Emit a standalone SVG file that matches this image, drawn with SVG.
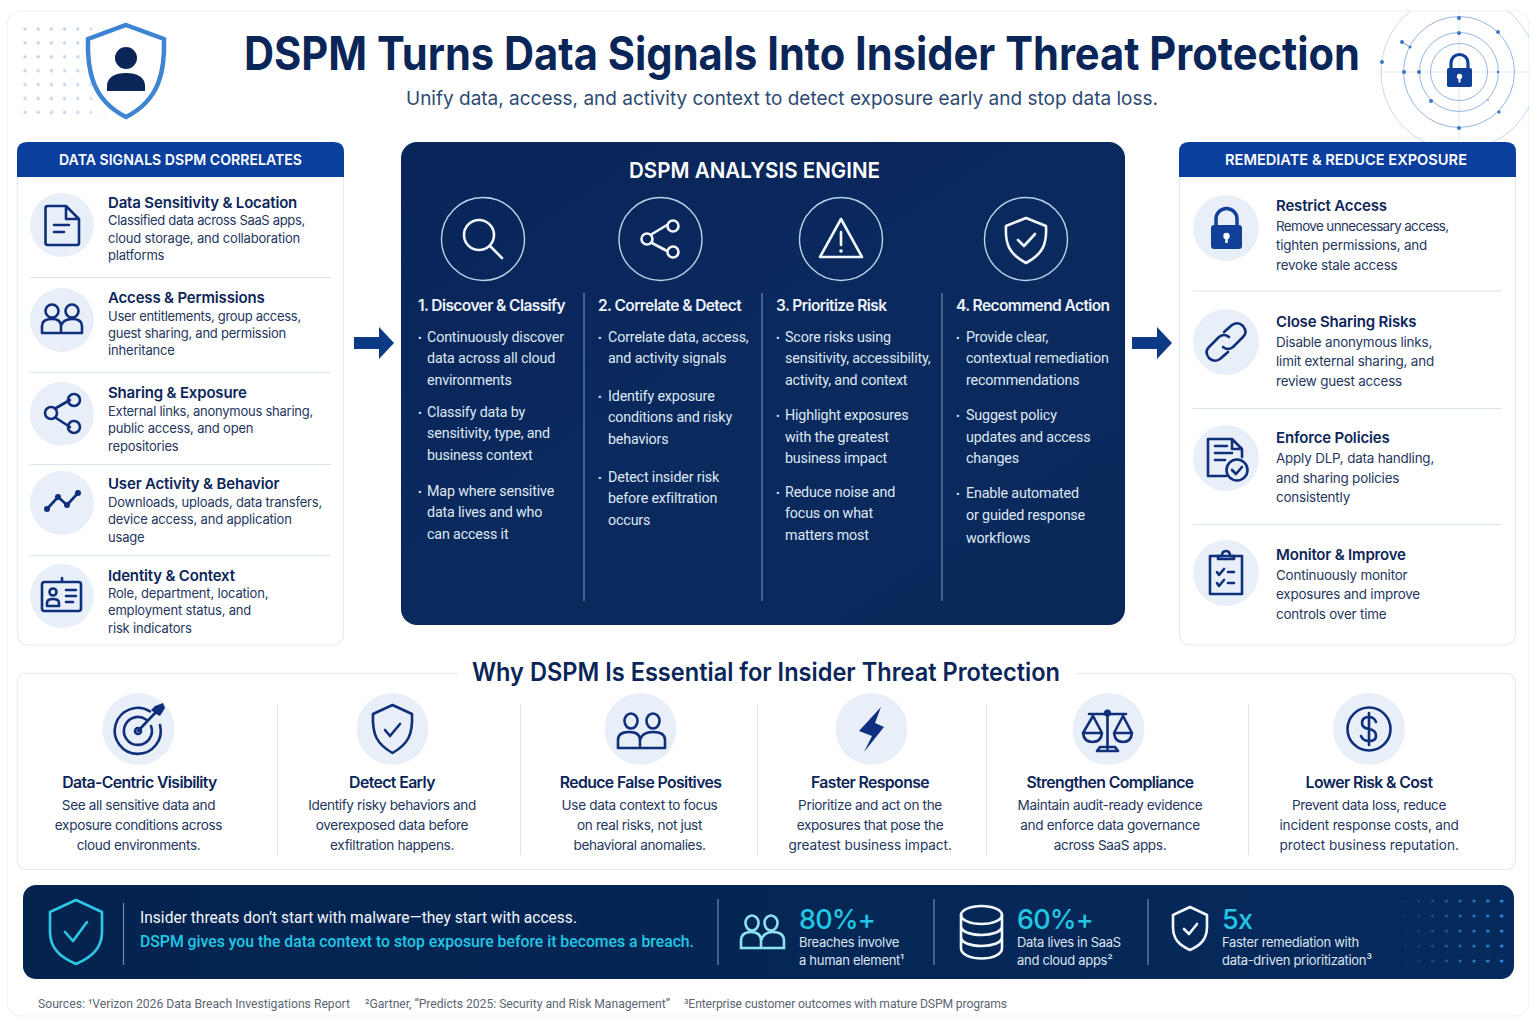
<svg xmlns="http://www.w3.org/2000/svg" width="1536" height="1024" viewBox="0 0 1536 1024">
<style>
text{font-family:Inter,"Liberation Sans",sans-serif}
.ln{fill:none;stroke:#0f2f7a;stroke-width:2.6;stroke-linecap:round;stroke-linejoin:round}
.wl{fill:none;stroke:#f2f7fc;stroke-width:2.6;stroke-linecap:round;stroke-linejoin:round}
.cy{fill:none;stroke:#2ec8e4;stroke-width:2.6;stroke-linecap:round;stroke-linejoin:round}
.bub{fill:#e8eff8}
.ph{font-size:15px;font-weight:600;fill:#fff;text-anchor:middle}
.it{font-size:15px;font-weight:600;fill:#0c2558;letter-spacing:-.17px}
.d1{font-size:13px;fill:#24365e;letter-spacing:-.18px}
.d2{font-size:13.4px;fill:#24365e;letter-spacing:-.18px}
.st{font-size:15.5px;font-weight:600;fill:#eef3fb;letter-spacing:-.58px}
.b{font-family:Roboto,"Liberation Sans",sans-serif;font-size:14.3px;fill:#dfe8f4;letter-spacing:-.16px}
.bu{font-size:11px}
.sep{stroke:#dbe3f0;stroke-width:1.2}
.esep{stroke:#7288ab;stroke-width:1.2}
.wt{font-size:15.8px;font-weight:600;fill:#0c2558;text-anchor:middle;letter-spacing:-.6px}
.wd{font-size:13.6px;fill:#24365e;text-anchor:middle;letter-spacing:-.36px}
.big{font-size:27px;font-weight:500;fill:#22c7e3;letter-spacing:-.8px}
.sm{font-size:13px;fill:#dbe5f1;letter-spacing:-.3px}
.ring{fill:none;stroke:#95b7e3;stroke-width:1}
.dot{fill:#3d78c4}
.flow{fill:none;stroke:#22c7e3;stroke-width:2;stroke-dasharray:2 4.6}
.src{font-family:Roboto,"Liberation Sans",sans-serif;font-size:12.2px;fill:#5d6673}
.ban{font-family:Roboto,"Liberation Sans",sans-serif;font-size:16.5px}
</style>
<defs>
<marker id="ah" viewBox="0 0 12 14" refX="11" refY="7" markerWidth="12" markerHeight="14" markerUnits="userSpaceOnUse" orient="auto"><path d="M0 0L12 7L0 14L3 7Z" fill="#22c7e3"/></marker>
<linearGradient id="eng" x1="0" y1="0" x2="1" y2="1"><stop offset="0" stop-color="#09255a"/><stop offset="0.6" stop-color="#0a2a5e"/><stop offset="1" stop-color="#09285a"/></linearGradient>
<linearGradient id="ban" x1="0" y1="0" x2="1" y2="0"><stop offset="0" stop-color="#04234f"/><stop offset="1" stop-color="#052a5c"/></linearGradient>
<pattern id="pd1" x="19" y="23" width="13.2" height="13.9" patternUnits="userSpaceOnUse"><circle cx="6" cy="6" r="1.7" fill="#c4d4e8"/></pattern>
<pattern id="pd2" x="1400" y="895" width="13.8" height="15" patternUnits="userSpaceOnUse"><circle cx="5" cy="6" r="1.6" fill="#3a9ae8"/></pattern>
<linearGradient id="mg" x1="0" y1="0" x2="1" y2="0"><stop offset="0" stop-color="#fff" stop-opacity="0.05"/><stop offset="1" stop-color="#fff"/></linearGradient>
<linearGradient id="mg1" x1="0" y1="0" x2="1" y2="0"><stop offset="0" stop-color="#fff"/><stop offset="0.7" stop-color="#fff"/><stop offset="1" stop-color="#fff" stop-opacity="0.1"/></linearGradient>
<mask id="m2" maskUnits="userSpaceOnUse" x="1400" y="895" width="105" height="75"><rect x="1400" y="895" width="105" height="75" fill="url(#mg)"/></mask>
<mask id="m1" maskUnits="userSpaceOnUse" x="19" y="23" width="90" height="97"><rect x="19" y="23" width="90" height="97" fill="url(#mg1)"/></mask>
<clipPath id="frameclip"><rect x="1340" y="11" width="189" height="135"/></clipPath>
</defs>
<rect width="1536" height="1024" fill="#fff"/>
<rect x="7" y="11" width="1522" height="1005" rx="14" fill="#fff" stroke="#eef2f8" stroke-width="1.2"/>

<g id="header">
<rect x="19" y="23" width="90" height="97" fill="url(#pd1)" mask="url(#m1)"/>
<path id="shield-user" d="M126 25L164 39C165 70 160 100 126 117C92 100 87 70 88 39Z" fill="#fff" stroke="#3d84d2" stroke-width="4.500" stroke-linejoin="miter"/>
<circle cx="126" cy="58" r="11" fill="#0a2659"/>
<path d="M107 91V86C107 77 115 73 126 73C137 73 145 77 145 86V91Z" fill="#0a2659"/>
<text x="244" y="70" font-size="46" font-weight="700" fill="#0a2659" textLength="1116" lengthAdjust="spacingAndGlyphs">DSPM Turns Data Signals Into Insider Threat Protection</text>
<text x="782" y="105" font-size="19" fill="#2c4a72" text-anchor="middle" textLength="752" lengthAdjust="spacingAndGlyphs">Unify data, access, and activity context to detect exposure early and stop data loss.</text>
<g clip-path="url(#frameclip)">
<line x1="1381" y1="72" x2="1529" y2="72" stroke="#dde7f5"/><line x1="1459" y1="11" x2="1459" y2="140" stroke="#dde7f5"/>
<circle class="ring" cx="1459" cy="72" r="28.500"/><circle class="ring" cx="1459" cy="72" r="39.500"/><circle class="ring" cx="1459" cy="72" r="55.500"/><circle class="ring" cx="1459" cy="72" r="78" stroke-opacity="0.55"/>
<line x1="1402" y1="42" x2="1410" y2="47" stroke="#6f9bd6"/>
<g class="dot"><circle cx="1459" cy="18" r="2"/><circle cx="1459" cy="33" r="2"/><circle cx="1498" cy="32" r="2"/><circle cx="1402" cy="42" r="2"/><circle cx="1410" cy="47" r="1.500"/><circle cx="1382" cy="62" r="2"/><circle cx="1404" cy="72" r="2"/><circle cx="1419" cy="72" r="2"/><circle cx="1431" cy="101" r="2"/><circle cx="1499" cy="112" r="1.700"/><circle cx="1498" cy="72" r="1.200"/><circle cx="1459" cy="128" r="2"/><circle cx="1488" cy="100" r="1.300" fill="#a9c3e6"/></g>
<path d="M1451 68V63A8.300 8.300 0 0 1 1468 63V68" fill="none" stroke="#0f3f97" stroke-width="3.200"/>
<rect x="1447" y="68" width="25" height="19" rx="1.800" fill="#0f3f97"/>
<circle cx="1459.500" cy="76.500" r="2.700" fill="#fff"/><rect x="1458.500" y="77" width="2" height="5.500" fill="#fff"/>
</g>
</g>

<g id="panel-left">
<rect x="17.500" y="150" width="326" height="495" rx="10" fill="#fff" stroke="#e3eaf6" stroke-width="1.200"/>
<path d="M17 177V152Q17 142 27 142H334Q344 142 344 152V177Z" fill="#0b3f9e"/>
<text class="ph" x="180.500" y="165" textLength="243" lengthAdjust="spacingAndGlyphs">DATA SIGNALS DSPM CORRELATES</text>
<line class="sep" x1="30" y1="277.500" x2="331" y2="277.500"/><line class="sep" x1="30" y1="372.500" x2="331" y2="372.500"/><line class="sep" x1="30" y1="464.500" x2="331" y2="464.500"/><line class="sep" x1="30" y1="555.500" x2="331" y2="555.500"/>
</g>
<g id="signal-sensitivity">
<circle class="bub" cx="62" cy="225" r="32"/>
<path class="ln" d="M48 206H66L79 219V243Q79 245 77 245H48Q45.500 245 45.500 243V208Q45.500 206 48 206ZM66 206V219H79M54 225H69M54 232H64"/>
<text class="it" x="108" y="207.500">Data Sensitivity &amp; Location</text>
<text class="d1" x="108" y="225" textLength="197">Classified data across SaaS apps,</text><text class="d1" x="108" y="242.500">cloud storage, and collaboration</text><text class="d1" x="108" y="260">platforms</text>
</g>
<g id="signal-access">
<circle class="bub" cx="62" cy="320" r="32"/>
<path class="ln" d="M42 333V326Q42 319 52 319Q61 319 61 326V333ZM61 333H82V326Q82 319 72 319Q63 319 61 326"/><circle class="ln" cx="52" cy="311" r="6.500"/><circle class="ln" cx="72" cy="311" r="6.500"/>
<text class="it" x="108" y="303">Access &amp; Permissions</text>
<text class="d1" x="108" y="321" textLength="193">User entitlements, group access,</text><text class="d1" x="108" y="338" textLength="178">guest sharing, and permission</text><text class="d1" x="108" y="355">inheritance</text>
</g>
<g id="signal-sharing">
<circle class="bub" cx="62" cy="414" r="32"/>
<path class="ln" d="M56 408L70 400M56 418L70 427" stroke-width="3"/><circle class="ln" cx="51" cy="413" r="6"/><circle class="ln" cx="74" cy="400" r="6"/><circle class="ln" cx="74" cy="427" r="6"/>
<text class="it" x="108" y="398">Sharing &amp; Exposure</text>
<text class="d1" x="108" y="416" textLength="205">External links, anonymous sharing,</text><text class="d1" x="108" y="433">public access, and open</text><text class="d1" x="108" y="451">repositories</text>
</g>
<g id="signal-activity">
<circle class="bub" cx="62" cy="503" r="32"/>
<path class="ln" d="M47 509L58 497L67 505L78 493"/>
<g fill="#0f2f7a"><circle cx="47" cy="509" r="3"/><circle cx="58" cy="497" r="3"/><circle cx="67" cy="505" r="3"/><circle cx="78" cy="493" r="3"/></g>
<text class="it" x="108" y="489">User Activity &amp; Behavior</text>
<text class="d1" x="108" y="507" textLength="214">Downloads, uploads, data transfers,</text><text class="d1" x="108" y="524">device access, and application</text><text class="d1" x="108" y="542">usage</text>
</g>
<g id="signal-identity">
<circle class="bub" cx="62" cy="596" r="32"/>
<rect class="ln" x="42" y="582" width="39" height="29" rx="2.500"/><path class="ln" d="M62 578V581" stroke-width="3"/><circle class="ln" cx="53" cy="592" r="3.500"/><path class="ln" d="M47 606V603Q47 599 53 599Q59 599 59 603V606ZM66 590H76M66 596H76M66 602H73"/>
<text class="it" x="108" y="580.500">Identity &amp; Context</text>
<text class="d1" x="108" y="598">Role, department, location,</text><text class="d1" x="108" y="615">employment status, and</text><text class="d1" x="108" y="633">risk indicators</text>
</g>

<g id="connectors">
<path d="M354 337H379V327L394 343L379 359V349H354Z" fill="#0d3a85"/>
<path d="M1132 337H1157V327L1172 343L1157 359V349H1132Z" fill="#0d3a85"/>
<path class="flow" d="M527 241H606" marker-end="url(#ah)"/>
<path class="flow" d="M703 241H785" marker-end="url(#ah)"/>
<path class="flow" d="M884 241H969" marker-end="url(#ah)"/>
</g>

<g id="engine">
<rect x="401" y="142" width="724" height="483" rx="16" fill="url(#eng)"/>
<text x="754.500" y="178" font-size="22" font-weight="600" fill="#fff" text-anchor="middle" textLength="251" lengthAdjust="spacingAndGlyphs">DSPM ANALYSIS ENGINE</text>
<line class="esep" x1="584" y1="293" x2="584" y2="601"/><line class="esep" x1="762" y1="293" x2="762" y2="601"/><line class="esep" x1="942" y1="293" x2="942" y2="601"/>
</g>
<g id="step-1">
<circle cx="483" cy="239" r="41.500" fill="none" stroke="#b7d3ea" stroke-width="1.400"/>
<circle class="wl" cx="479" cy="235" r="15" stroke-width="3"/><path class="wl" d="M490 246L502 258" stroke-width="3.200"/>
<text class="st" x="418" y="311">1. Discover &amp; Classify</text>
<text class="b"><tspan class="bu" x="418" y="342">•</tspan><tspan x="427" y="342">Continuously discover</tspan><tspan x="427" y="363">data across all cloud</tspan><tspan x="427" y="385">environments</tspan><tspan class="bu" x="418" y="417">•</tspan><tspan x="427" y="417">Classify data by</tspan><tspan x="427" y="438">sensitivity, type, and</tspan><tspan x="427" y="460">business context</tspan><tspan class="bu" x="418" y="496">•</tspan><tspan x="427" y="496">Map where sensitive</tspan><tspan x="427" y="517">data lives and who</tspan><tspan x="427" y="539">can access it</tspan></text>
</g>
<g id="step-2">
<circle cx="660.500" cy="239" r="41.500" fill="none" stroke="#b7d3ea" stroke-width="1.400"/>
<path class="wl" d="M652 234L667 225M652 243L667 251" stroke-width="2.200"/><circle class="wl" cx="647" cy="239" r="5.500"/><circle class="wl" cx="673" cy="226" r="5.500"/><circle class="wl" cx="673" cy="252" r="5.500"/>
<text class="st" x="598" y="311">2. Correlate &amp; Detect</text>
<text class="b"><tspan class="bu" x="598" y="342">•</tspan><tspan x="608" y="342">Correlate data, access,</tspan><tspan x="608" y="363">and activity signals</tspan><tspan class="bu" x="598" y="401">•</tspan><tspan x="608" y="401">Identify exposure</tspan><tspan x="608" y="422">conditions and risky</tspan><tspan x="608" y="444">behaviors</tspan><tspan class="bu" x="598" y="482">•</tspan><tspan x="608" y="482">Detect insider risk</tspan><tspan x="608" y="503">before exfiltration</tspan><tspan x="608" y="525">occurs</tspan></text>
</g>
<g id="step-3">
<circle cx="841" cy="239" r="41.500" fill="none" stroke="#b7d3ea" stroke-width="1.400"/>
<path class="wl" d="M841 219L862 257H820Z"/><path class="wl" d="M841 232V245" stroke-width="2.800"/><circle cx="841" cy="251" r="1.800" fill="#f2f7fc"/>
<text class="st" x="776" y="311">3. Prioritize Risk</text>
<text class="b"><tspan class="bu" x="776" y="342">•</tspan><tspan x="785" y="342">Score risks using</tspan><tspan x="785" y="363">sensitivity, accessibility,</tspan><tspan x="785" y="385">activity, and context</tspan><tspan class="bu" x="776" y="420">•</tspan><tspan x="785" y="420">Highlight exposures</tspan><tspan x="785" y="442">with the greatest</tspan><tspan x="785" y="463">business impact</tspan><tspan class="bu" x="776" y="497">•</tspan><tspan x="785" y="497">Reduce noise and</tspan><tspan x="785" y="518">focus on what</tspan><tspan x="785" y="540">matters most</tspan></text>
</g>
<g id="step-4">
<circle cx="1026" cy="239" r="41.500" fill="none" stroke="#b7d3ea" stroke-width="1.400"/>
<path class="wl" d="M1026 218L1046 226C1047 244 1043 254 1026 263C1009 254 1005 244 1006 226Z"/><path class="wl" d="M1018 240L1024 246L1035 234"/>
<text class="st" x="956" y="311">4. Recommend Action</text>
<text class="b"><tspan class="bu" x="956" y="342">•</tspan><tspan x="966" y="342">Provide clear,</tspan><tspan x="966" y="363">contextual remediation</tspan><tspan x="966" y="385">recommendations</tspan><tspan class="bu" x="956" y="420">•</tspan><tspan x="966" y="420">Suggest policy</tspan><tspan x="966" y="442">updates and access</tspan><tspan x="966" y="463">changes</tspan><tspan class="bu" x="956" y="498">•</tspan><tspan x="966" y="498">Enable automated</tspan><tspan x="966" y="520">or guided response</tspan><tspan x="966" y="543">workflows</tspan></text>
</g>

<g id="panel-right">
<rect x="1179.500" y="150" width="336" height="495" rx="10" fill="#fff" stroke="#e3eaf6" stroke-width="1.200"/>
<path d="M1179 177V152Q1179 142 1189 142H1506Q1516 142 1516 152V177Z" fill="#0b3f9e"/>
<text class="ph" x="1346" y="165" textLength="242" lengthAdjust="spacingAndGlyphs">REMEDIATE &amp; REDUCE EXPOSURE</text>
<line class="sep" x1="1193" y1="291" x2="1502" y2="291"/><line class="sep" x1="1193" y1="408.500" x2="1502" y2="408.500"/><line class="sep" x1="1193" y1="524.500" x2="1502" y2="524.500"/>
</g>
<g id="fix-restrict">
<circle class="bub" cx="1226" cy="228" r="33"/>
<path d="M1216 226V219A10.500 10.500 0 0 1 1237 219V226" fill="none" stroke="#0f3f97" stroke-width="3.500"/><rect x="1211" y="225" width="31" height="24" rx="3" fill="#0f3f97"/><circle cx="1226.500" cy="236" r="3.200" fill="#fff"/><rect x="1225.300" y="237" width="2.400" height="6" fill="#fff"/>
<text class="it" x="1276" y="211">Restrict Access</text>
<text class="d2" x="1276" y="231" textLength="173">Remove unnecessary access,</text><text class="d2" x="1276" y="250">tighten permissions, and</text><text class="d2" x="1276" y="270">revoke stale access</text>
</g>
<g id="fix-sharing">
<circle class="bub" cx="1226" cy="342" r="33"/>
<path class="ln" d="M1224 332L1232 325Q1238 321 1243 326Q1248 332 1243 337L1233 347Q1228 351 1223 347M1228 352L1220 359Q1214 363 1209 358Q1204 352 1209 347L1219 337Q1224 333 1229 337"/>
<text class="it" x="1276" y="327">Close Sharing Risks</text>
<text class="d2" x="1276" y="347">Disable anonymous links,</text><text class="d2" x="1276" y="366">limit external sharing, and</text><text class="d2" x="1276" y="386">review guest access</text>
</g>
<g id="fix-policies">
<circle class="bub" cx="1226" cy="458" r="33"/>
<path class="ln" d="M1226 476H1208V439H1232L1242 449V457M1232 439V449H1242M1215 446H1227M1215 453H1232M1215 460H1225"/><circle class="ln" cx="1237" cy="470" r="10.500"/><path class="ln" d="M1232 470L1236 474L1242 467"/>
<text class="it" x="1276" y="443">Enforce Policies</text>
<text class="d2" x="1276" y="463">Apply DLP, data handling,</text><text class="d2" x="1276" y="483">and sharing policies</text><text class="d2" x="1276" y="502">consistently</text>
</g>
<g id="fix-monitor">
<circle class="bub" cx="1226" cy="573" r="33"/>
<rect class="ln" x="1210" y="556" width="32" height="38"/><path class="ln" d="M1218 559V556H1222Q1222 551 1226 551Q1230 551 1230 556H1234V559ZM1217 572L1219 575L1224 569M1217 583L1219 586L1224 580M1228 572H1234M1228 583H1234"/>
<text class="it" x="1276" y="560">Monitor &amp; Improve</text>
<text class="d2" x="1276" y="580">Continuously monitor</text><text class="d2" x="1276" y="599">exposures and improve</text><text class="d2" x="1276" y="619">controls over time</text>
</g>

<g id="why">
<path d="M458 673.500H27Q17.500 673.500 17.500 683V860Q17.500 869.500 27 869.500H1506Q1515.500 869.500 1515.500 860V683Q1515.500 673.500 1506 673.500H1076" fill="none" stroke="#e3eaf6" stroke-width="1.200"/>
<text x="766" y="681" font-size="25" font-weight="600" fill="#0a2659" text-anchor="middle" textLength="588" lengthAdjust="spacingAndGlyphs">Why DSPM Is Essential for Insider Threat Protection</text>
<line class="sep" x1="277.500" y1="704" x2="277.500" y2="855"/><line class="sep" x1="520.500" y1="704" x2="520.500" y2="855"/><line class="sep" x1="757.500" y1="704" x2="757.500" y2="855"/><line class="sep" x1="986.500" y1="704" x2="986.500" y2="855"/><line class="sep" x1="1248.500" y1="704" x2="1248.500" y2="855"/>
</g>
<g id="why-visibility">
<circle class="bub" cx="138.500" cy="729" r="36"/>
<path class="ln" d="M150 711.400A23 23 0 1 0 160 725M146 719.500A14 14 0 1 0 151 726M138 731L156 712"/><circle class="ln" cx="138" cy="731" r="3"/>
<path d="M151 710L155 706L163 703L165 708L160 716L156 714Z" fill="#0f2f7a"/>
<text class="wt" x="139.500" y="788">Data-Centric Visibility</text>
<text class="wd" x="138.500" y="810">See all sensitive data and</text><text class="wd" x="138.500" y="830">exposure conditions across</text><text class="wd" x="138.500" y="850">cloud environments.</text>
</g>
<g id="why-early">
<circle class="bub" cx="392.500" cy="729" r="36"/>
<path class="ln" d="M392.500 705L412 714C413 735 408 744 392.500 753C377 744 372 735 373 714Z"/><path class="ln" d="M385 730L390 736L400 724"/>
<text class="wt" x="392" y="788">Detect Early</text>
<text class="wd" x="392" y="810">Identify risky behaviors and</text><text class="wd" x="392" y="830">overexposed data before</text><text class="wd" x="392" y="850">exfiltration happens.</text>
</g>
<g id="why-false">
<circle class="bub" cx="640.500" cy="729" r="36"/>
<path class="ln" d="M618 748V740Q618 732 629 732Q640 732 640 740V748ZM618 748H665V740Q665 732 653 732Q642 732 640 740"/><ellipse class="ln" cx="631" cy="721" rx="6.500" ry="7.500"/><ellipse class="ln" cx="653" cy="721" rx="6.500" ry="7.500"/>
<text class="wt" x="640.500" y="788">Reduce False Positives</text>
<text class="wd" x="639.500" y="810">Use data context to focus</text><text class="wd" x="639.500" y="830">on real risks, not just</text><text class="wd" x="639.500" y="850">behavioral anomalies.</text>
</g>
<g id="why-faster">
<circle class="bub" cx="871.500" cy="729" r="36"/>
<path d="M881 707L859 731L872 736L864 752L884 727L875 723Z" fill="#0d3080"/>
<text class="wt" x="870" y="788">Faster Response</text>
<text class="wd" x="870" y="810">Prioritize and act on the</text><text class="wd" x="870" y="830">exposures that pose the</text><text class="wd" x="870" y="850" textLength="163">greatest business impact.</text>
</g>
<g id="why-compliance">
<circle class="bub" cx="1108.500" cy="729" r="36"/>
<path class="ln" d="M1089 714H1126M1107.500 711V749M1097 751H1118L1115 747H1100ZM1093 716L1083 733H1102ZM1123 716L1114 733H1132ZM1083 733Q1084 742 1092.500 742Q1101 742 1102 733M1114 733Q1115 742 1123 742Q1131 742 1132 733"/><circle class="ln" cx="1107.500" cy="713" r="2.300"/>
<text class="wt" x="1110" y="788">Strengthen Compliance</text>
<text class="wd" x="1110" y="810">Maintain audit-ready evidence</text><text class="wd" x="1110" y="830">and enforce data governance</text><text class="wd" x="1110" y="850">across SaaS apps.</text>
</g>
<g id="why-cost">
<circle class="bub" cx="1369" cy="729" r="36"/>
<circle class="ln" cx="1369" cy="729" r="21.500"/>
<path class="ln" d="M1376 722Q1374 717 1369 717Q1362 717 1362 723Q1362 728 1369 729Q1376 730 1376 736Q1376 741 1369 741Q1363 741 1361 736M1369 713V745"/>
<text class="wt" x="1369" y="788">Lower Risk &amp; Cost</text>
<text class="wd" x="1369" y="810">Prevent data loss, reduce</text><text class="wd" x="1369" y="830" textLength="179">incident response costs, and</text><text class="wd" x="1369" y="850" textLength="179">protect business reputation.</text>
</g>

<g id="banner">
<rect x="23" y="885" width="1491" height="94" rx="13" fill="url(#ban)"/>
<rect x="1400" y="895" width="105" height="75" fill="url(#pd2)" mask="url(#m2)"/>
<line class="esep" x1="123.500" y1="903" x2="123.500" y2="965"/><line class="esep" x1="718" y1="899" x2="718" y2="965"/><line class="esep" x1="934" y1="899" x2="934" y2="965"/><line class="esep" x1="1148" y1="899" x2="1148" y2="965"/>
<path class="cy" d="M76 900L102 912V932C102 948 92 957 76 964C60 957 50 948 50 932V912Z"/><path class="cy" d="M65 932L73 941L87 922"/>
<text class="ban" x="140" y="923" fill="#f2f6fb" textLength="437" lengthAdjust="spacingAndGlyphs">Insider threats don’t start with malware—they start with access.</text>
<text class="ban" x="140" y="947" font-weight="500" fill="#22c7e3" textLength="554" lengthAdjust="spacingAndGlyphs">DSPM gives you the data context to stop exposure before it becomes a breach.</text>
<g id="stat-human">
<path fill="none" stroke="#8fe2f2" stroke-width="2.600" d="M741 948V941Q741 932 751 932Q761 932 761 941V948ZM741 948H784V941Q784 932 773 932Q763 932 761 941"/><ellipse cx="752" cy="923" rx="6.500" ry="7.500" fill="none" stroke="#8fe2f2" stroke-width="2.600"/><ellipse cx="771" cy="923" rx="6.500" ry="7.500" fill="none" stroke="#8fe2f2" stroke-width="2.600"/>
<text class="big" x="799" y="929">80%+</text><text class="sm" x="799" y="947">Breaches involve</text><text class="sm" x="799" y="965">a human element¹</text>
</g>
<g id="stat-cloud">
<path class="wl" d="M961 915V948C961 962 1002 962 1002 948V915M961 926C961 938 1002 938 1002 926M961 937C961 949 1002 949 1002 937"/><ellipse class="wl" cx="981.500" cy="915" rx="20.500" ry="9"/>
<text class="big" x="1017" y="929">60%+</text><text class="sm" x="1017" y="947">Data lives in SaaS</text><text class="sm" x="1017" y="965">and cloud apps²</text>
</g>
<g id="stat-speed">
<path class="wl" d="M1190 907L1207 915V927C1207 939 1201 945 1190 950C1179 945 1173 939 1173 927V915Z"/><path class="wl" d="M1184 929L1189 934L1197 924" stroke-width="1.600"/>
<text class="big" x="1222" y="929">5x</text><text class="sm" x="1222" y="947">Faster remediation with</text><text class="sm" x="1222" y="965">data-driven prioritization³</text>
</g>
</g>
<g id="sources">
<text class="src" x="38" y="1008" textLength="312">Sources: ¹Verizon 2026 Data Breach Investigations Report</text>
<text class="src" x="365" y="1008" textLength="305">²Gartner, “Predicts 2025: Security and Risk Management”</text>
<text class="src" x="684" y="1008" textLength="323">³Enterprise customer outcomes with mature DSPM programs</text>
</g>
</svg>
